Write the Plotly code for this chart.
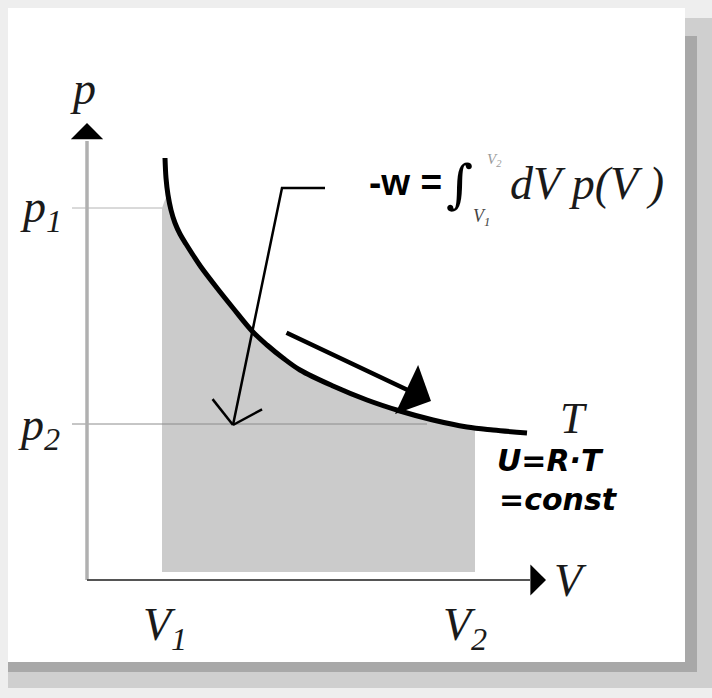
import numpy as np
import plotly.graph_objects as go

# ---- isotherm p(V), read point by point (arbitrary units) ----
V_CURVE = [0.78, 0.79, 0.81, 0.84, 0.88, 0.93, 0.99, 1.06, 1.14, 1.30, 1.46,
           1.65, 1.80, 1.96, 2.13, 2.46, 2.80, 3.13, 3.46, 3.80, 4.06, 4.40]
P_CURVE = [4.22, 4.02, 3.85, 3.70, 3.57, 3.46, 3.36, 3.25, 3.13, 2.92, 2.72,
           2.49, 2.35, 2.22, 2.10, 1.94, 1.80, 1.69, 1.60, 1.53, 1.50, 1.47]

# state points
V1, V2 = 0.75, 3.88
P1, P2 = 3.72, 1.56
SHADE_FLOOR = 0.08          # lower edge of the work area

# axis tick labels
V_TICKS = ["V<sub>1</sub>", "V<sub>2</sub>"]
P_TICKS = ["p<sub>1</sub>", "p<sub>2</sub>"]

# ---- plot window (data units) ----
X_RANGE = [-0.87, 6.25]
Y_RANGE = [-1.18, 5.80]
W, H = 712, 698

SERIF = "Liberation Serif, Times New Roman, serif"
SANS_B = "Liberation Sans, Arial, sans-serif"
VERD = "DejaVu Sans, Verdana, sans-serif"


def paper_x(px):
    return px / W


def paper_y(py):
    return 1 - py / H


fig = go.Figure()

# work area under the curve between V1 and V2
vc = np.array(V_CURVE)
pc = np.array(P_CURVE)
inside = (vc > V1 + 0.05) & (vc < V2)
top_v = [V1] + list(vc[inside]) + [V2]
top_p = [P1] + list(pc[inside]) + [float(np.interp(V2, vc, pc))]
fig.add_trace(go.Scatter(x=[V1, V2], y=[SHADE_FLOOR, SHADE_FLOOR], mode="lines",
                         line=dict(width=0, color="rgba(0,0,0,0)"),
                         hoverinfo="skip"))
fig.add_trace(go.Scatter(x=top_v, y=top_p, mode="lines",
                         line=dict(width=0, color="rgba(0,0,0,0)", shape="spline"),
                         fill="tonexty", fillcolor="#cbcbcb", hoverinfo="skip"))

# guide lines for p1 and p2
fig.add_trace(go.Scatter(x=[-0.15, V1], y=[P1, P1], mode="lines",
                         line=dict(width=1, color="#b4b4b4"), hoverinfo="skip"))
fig.add_trace(go.Scatter(x=[-0.15, 3.40], y=[P2, P2], mode="lines",
                         line=dict(width=1, color="#8c8c8c"), hoverinfo="skip"))

# axes
fig.add_trace(go.Scatter(x=[0, 0], y=[0, 4.39], mode="lines",
                         line=dict(width=3.5, color="#b0b0b0"), hoverinfo="skip"))
fig.add_trace(go.Scatter(x=[0, 4.43], y=[0, 0], mode="lines",
                         line=dict(width=2, color="#555555"), hoverinfo="skip"))

# the isotherm
fig.add_trace(go.Scatter(x=V_CURVE, y=P_CURVE, mode="lines",
                         line=dict(width=5, color="black", shape="spline",
                                   smoothing=1.0),
                         hoverinfo="skip"))

# callout from the formula to the area, with an open arrow head
lead_v = [2.38, 1.95, 1.46]
lead_p = [3.92, 3.92, 1.55]
tip = np.array([lead_v[-1], lead_p[-1]])
back = np.array([lead_v[-2], lead_p[-2]]) - tip
# work in pixel space so the head angles look right
sx, sy = 100.0, 100.0
bpx = np.array([back[0] * sx, -back[1] * sy])
bpx /= np.linalg.norm(bpx)
arm = 33.0
head_v, head_p = [], []
for ang in (np.radians(50), -np.radians(50)):
    c, s = np.cos(ang), np.sin(ang)
    d = np.array([c * bpx[0] - s * bpx[1], s * bpx[0] + c * bpx[1]]) * arm
    head_v += [tip[0] + d[0] / sx, tip[0], None]
    head_p += [tip[1] - d[1] / sy, tip[1], None]
fig.add_trace(go.Scatter(x=lead_v + [None] + head_v, y=lead_p + [None] + head_p,
                         mode="lines", line=dict(width=2.5, color="black"),
                         hoverinfo="skip"))

annotations = []

# arrow heads of the axes and the expansion arrow
for (x, y, ax, ay, aw, asz) in [
    (0, 4.57, 0, 4.40, 2, 2.7),
    (4.59, 0, 4.43, 0, 2, 2.6),
    (3.44, 1.79, 1.98, 2.48, 4.5, 2.0),
]:
    annotations.append(dict(x=x, y=y, ax=ax, ay=ay, xref="x", yref="y",
                            axref="x", ayref="y", text="", showarrow=True,
                            arrowhead=1, arrowwidth=aw, arrowsize=asz,
                            arrowcolor="black"))


def label(x, y, text, size, family=SERIF, color="#1a1a1a", xanchor="center"):
    annotations.append(dict(x=x, y=y, xref="x", yref="y", text=text,
                            showarrow=False, xanchor=xanchor, yanchor="middle",
                            font=dict(family=family, size=size, color=color)))


label(-0.04, 4.92, "<i>p</i>", 46)
label(-0.46, P1 - 0.02, "<i>" + P_TICKS[0] + "</i>", 46)
label(-0.48, P2 - 0.04, "<i>" + P_TICKS[1] + "</i>", 46)
label(V1 + 0.03, -0.48, "<i>" + V_TICKS[0] + "</i>", 46)
label(V2 - 0.10, -0.48, "<i>" + V_TICKS[1] + "</i>", 46)
label(4.83, 0.0, "<i>V</i>", 46)
label(4.87, 1.62, "<i>T</i>", 44)

# internal energy note
label(4.08, 1.20, "<b><i>U=R·T</i></b>", 30, family=VERD, color="black",
      xanchor="left")
label(4.10, 0.81, "<b><i>=const</i></b>", 30, family=VERD, color="black",
      xanchor="left")

# work integral
label(2.80, 3.98, "<b>-w =</b>", 37, family=SANS_B, color="black", xanchor="left")
label(3.72, 3.96, "∫", 52, family="DejaVu Serif, serif", color="black")
label(3.94, 3.63, "<i>V<sub>1</sub></i>", 18, color="#444444")
label(4.07, 4.20, "<i>V<sub>2</sub></i>", 15, color="#9a9a9a")
label(4.21, 3.97, "<i>dV p(V )</i>", 46, color="#1a1a1a", xanchor="left")

# framed card with a drop shadow
shapes = [
    dict(type="rect", xref="paper", yref="paper", layer="below",
         x0=paper_x(8), x1=paper_x(712), y0=paper_y(688), y1=paper_y(18),
         fillcolor="#cfcfcf", line=dict(width=0)),
    dict(type="rect", xref="paper", yref="paper", layer="below",
         x0=paper_x(8), x1=paper_x(697), y0=paper_y(672), y1=paper_y(36),
         fillcolor="#a8a8a8", line=dict(width=0)),
    dict(type="rect", xref="paper", yref="paper", layer="below",
         x0=paper_x(8), x1=paper_x(685), y0=paper_y(662), y1=paper_y(8),
         fillcolor="white", line=dict(width=0)),
]

fig.update_layout(
    width=W, height=H, margin=dict(l=0, r=0, t=0, b=0),
    paper_bgcolor="#eeeeee", plot_bgcolor="rgba(0,0,0,0)",
    showlegend=False, annotations=annotations, shapes=shapes,
    xaxis=dict(range=X_RANGE, visible=False, fixedrange=True),
    yaxis=dict(range=Y_RANGE, visible=False, fixedrange=True),
)

fig.write_html("out.html", config={"displayModeBar": False})
